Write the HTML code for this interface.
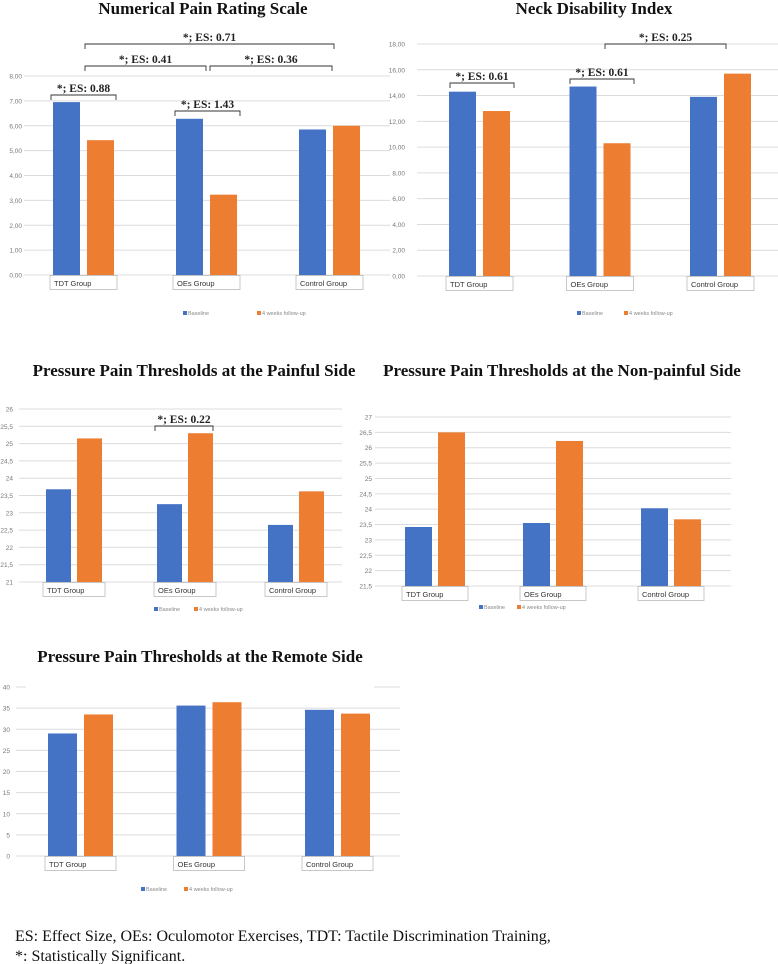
<!DOCTYPE html>
<html><head><meta charset="utf-8"><style>
html,body{margin:0;padding:0;background:#fff}
svg{display:block}
</style></head><body>
<svg id="root" width="778" height="964" viewBox="0 0 778 964" xmlns="http://www.w3.org/2000/svg">
<text x="15" y="941" font-family="Liberation Serif, serif" font-size="16" fill="#111">ES: Effect Size, OEs: Oculomotor Exercises, TDT: Tactile Discrimination Training,</text>
<text x="15" y="961" font-family="Liberation Serif, serif" font-size="16" fill="#111">*: Statistically Significant.</text>
</svg>
<script>
const categories = ["TDT Group", "OEs Group", "Control Group"];
const seriesNames = ["Baseline", "4 weeks follow-up"];
const nprsBaseline = [6.95, 6.28, 5.85];
const nprsFollow = [5.42, 3.23, 6.0];
const nprsTicks = ["0,00","1,00","2,00","3,00","4,00","5,00","6,00","7,00","8,00"];
const ndiBaseline = [14.3, 14.7, 13.9];
const ndiFollow = [12.8, 10.3, 15.7];
const ndiTicks = ["0,00","2,00","4,00","6,00","8,00","10,00","12,00","14,00","16,00","18,00"];
const pptPainBaseline = [23.68, 23.25, 22.65];
const pptPainFollow = [25.15, 25.3, 23.62];
const pptPainTicks = ["21","21,5","22","22,5","23","23,5","24","24,5","25","25,5","26"];
const pptNonBaseline = [23.42, 23.55, 24.03];
const pptNonFollow = [26.5, 26.22, 23.67];
const pptNonTicks = ["21,5","22","22,5","23","23,5","24","24,5","25","25,5","26","26,5","27"];
const pptRemBaseline = [29.0, 35.6, 34.6];
const pptRemFollow = [33.5, 36.4, 33.7];
const pptRemTicks = ["0","5","10","15","20","25","30","35","40"];

const NS="http://www.w3.org/2000/svg";
const root=document.getElementById('root');
function mk(tag,attrs,parent){const e=document.createElementNS(NS,tag);for(const k in attrs)e.setAttribute(k,attrs[k]);(parent||root).appendChild(e);return e;}

function chart(cfg){
  const g=mk('g',{});
  
  
  const vmin=parseFloat(cfg.ticks[0].replace(',','.'));
  const vmax=parseFloat(cfg.ticks[cfg.ticks.length-1].replace(',','.'));
  const y=v=>cfg.yBot-(v-vmin)/(vmax-vmin)*(cfg.yBot-cfg.yTop);
  const t=mk('text',{x:cfg.titleX,y:cfg.titleY,'text-anchor':'middle','font-family':'Liberation Serif, serif','font-weight':'bold','font-size':cfg.titleSize||17,fill:'#111'},g);
  t.textContent=cfg.title;
  
  
  cfg.ticks.forEach(lbl=>{
    const v=parseFloat(lbl.replace(',','.'));
    const yy=y(v);
    const gl=mk('line',{x1:cfg.gx1,x2:cfg.gx2,y1:yy,y2:yy,stroke:'#dcdcdc','stroke-width':1},g);
    
    
    const tl=mk('text',{x:cfg.labX,y:yy+2.5,'text-anchor':'end','font-family':'Liberation Sans, sans-serif','font-size':6.5,fill:'#777'},g);
    tl.textContent=lbl;
    
    
  });
  if(cfg.mask){mk('rect',{x:cfg.mask[0],y:y(vmax)-2,width:cfg.mask[1]-cfg.mask[0],height:4,fill:'#fff'},g);}
  categories.forEach((c,i)=>{
    const s=cfg.first+i*cfg.step;
    const vals=[cfg.base[i],cfg.follow[i]];
    vals.forEach((v,j)=>{
      const bx=s+j*cfg.off;
      const r=mk('rect',{x:bx,y:y(v),width:cfg.bw,height:y(vmin)-y(v),fill:j?'#ed7d31':'#4472c4'},g);
      
      
    });
    const bxw=cfg.off+cfg.bw+6;
    const box=mk('rect',{x:s-3,y:cfg.yBot+0.5,width:bxw,height:cfg.boxH||14,fill:'#fff',stroke:'#bbb','stroke-width':0.8},g);
    
    
    const ct=mk('text',{x:s+1,y:cfg.yBot+11,'font-family':'Liberation Sans, sans-serif','font-size':7.5,fill:'#333'},g);
    ct.textContent=c;
    
    
  });
  seriesNames.forEach((n,j)=>{
    const lx=cfg.legX+j*cfg.legGap;
    const sq=mk('rect',{x:lx,y:cfg.legY-4,width:4,height:4,fill:j?'#ed7d31':'#4472c4'},g);
    
    
    const lt=mk('text',{x:lx+5,y:cfg.legY,'font-family':'Liberation Sans, sans-serif','font-size':5.5,fill:'#888'},g);
    lt.textContent=n;
    
    
  });
  (cfg.brackets||[]).forEach(b=>{
    const p=mk('path',{d:`M${b[0]} ${b[2]+5} V${b[2]} H${b[1]} V${b[2]+5}`,fill:'none',stroke:'#333','stroke-width':0.9},g);
    
    
    const bt=mk('text',{x:(b[0]+b[1])/2,y:b[2]-3,'text-anchor':'middle','font-family':'Liberation Serif, serif','font-weight':'bold','font-size':11.5,fill:'#222'},g);
    bt.textContent=b[3];
    
    
  });
}

chart({name:'nprs-chart',title:'Numerical Pain Rating Scale',titleX:203,titleY:14,ticks:nprsTicks,base:nprsBaseline,follow:nprsFollow,
  yTop:76,yBot:275,gx1:24,gx2:390,labX:22,first:53,step:123,bw:27,off:34,legX:183,legGap:74,legY:315,
  brackets:[[51,116,95,'*; ES: 0.88'],[175,240,111,'*; ES: 1.43'],[85,206,66,'*; ES: 0.41'],[210,332,66,'*; ES: 0.36'],[85,334,44,'*; ES: 0.71']]});
chart({name:'ndi-chart',title:'Neck Disability Index',titleX:594,titleY:14,ticks:ndiTicks,base:ndiBaseline,follow:ndiFollow,
  yTop:44,yBot:276,gx1:417,gx2:778,labX:405,first:449,step:120.5,bw:27,off:34,legX:577,legGap:47,legY:315,
  brackets:[[450,514,83,'*; ES: 0.61'],[570,634,79,'*; ES: 0.61'],[605,726,44,'*; ES: 0.25']]});
chart({name:'ppt-painful-chart',title:'Pressure Pain Thresholds at the Painful Side',titleX:194,titleY:376,ticks:pptPainTicks,base:pptPainBaseline,follow:pptPainFollow,
  yTop:409,yBot:582,gx1:19,gx2:342,labX:13,first:46,step:111,bw:25,off:31,legX:154,legGap:40,legY:611,
  brackets:[[155,213,426,'*; ES: 0.22']]});
chart({name:'ppt-nonpainful-chart',title:'Pressure Pain Thresholds at the Non-painful Side',titleX:562,titleY:376,ticks:pptNonTicks,base:pptNonBaseline,follow:pptNonFollow,
  yTop:417,yBot:586,gx1:375,gx2:731,labX:372,first:405,step:118,bw:27,off:33,legX:479,legGap:38,legY:609});
chart({name:'ppt-remote-chart',title:'Pressure Pain Thresholds at the Remote Side',titleX:200,titleY:662,ticks:pptRemTicks,base:pptRemBaseline,follow:pptRemFollow,
  yTop:687,yBot:856,gx1:16,gx2:400,labX:10,first:48,step:128.5,bw:29,off:36,legX:141,legGap:43,legY:891,mask:[26,374]});
</script>
</body></html>
